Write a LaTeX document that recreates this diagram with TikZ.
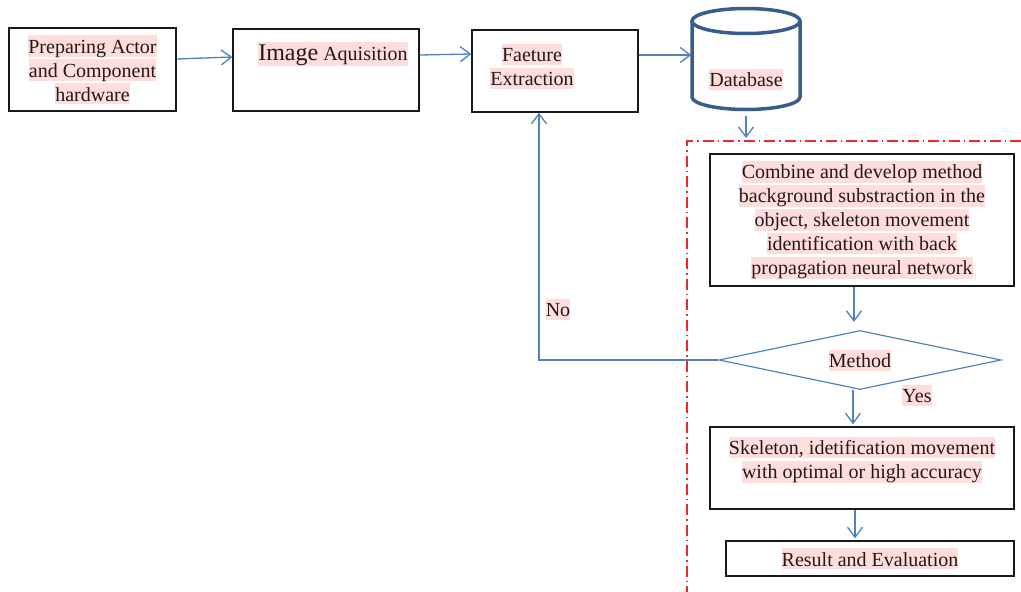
\documentclass[tikz,border=0pt]{standalone}
\usepackage{fontspec}
\setmainfont{Liberation Serif}
\usetikzlibrary{arrows.meta,shapes.geometric,calc}
\definecolor{hlpink}{RGB}{255,221,221}
\definecolor{flowblue}{RGB}{79,129,189}
\definecolor{dbblue}{RGB}{56,93,138}
\definecolor{regred}{RGB}{240,40,40}
\definecolor{inkc}{RGB}{35,25,25}
\newcommand{\hlt}[1]{{\setlength{\fboxsep}{0pt}\colorbox{hlpink}{\rule[-3pt]{0pt}{21pt}#1}}}
\begin{document}
\begin{tikzpicture}[x=1pt,y=-1pt,
  font=\fontsize{20}{24}\selectfont,
  every node/.style={text=inkc},
  box/.style={draw=black!90, line width=1.4pt, inner sep=0pt, align=center},
  txt/.style={align=center, inner sep=0pt},
  arr/.style={draw=flowblue, line width=1.3pt, -{Straight Barb[length=10pt,width=15pt]}},
  dbline/.style={draw=dbblue, line width=3.5pt},
  regline/.style={draw=regred, line width=1.5pt, dash pattern=on 11pt off 4pt on 1.5pt off 4pt},
  ]
\useasboundingbox (0,0) rectangle (1021,592);

% top row
\node[box, minimum width=167, minimum height=83] (prep) at (92.5,69.5)
  {\hlt{Preparing Actor}\\\hlt{and Component}\\\hlt{hardware}};
\node[box, minimum width=186, minimum height=82] (imgb) at (326,70) {};
\node[txt] (imgt) at (333,54) {\hlt{{\fontsize{24}{24}\selectfont Image} Aquisition}};
\node[box, minimum width=166, minimum height=82] (featb) at (555,71) {};
\node[txt] (featt) at (532,66) {\hlt{Faeture}\\\hlt{Extraction}};

% database cylinder
\node[inner sep=0pt, minimum width=109, minimum height=102] (db) at (746,59) {};
\draw[dbline] (692,21) -- (692,97) arc[start angle=180, end angle=0, x radius=54, y radius=12.5] -- (800,21);
\draw[dbline] (746,21) ellipse[x radius=54, y radius=12.5];
\node[txt] (dbt) at (746,79) {\hlt{Database}};

% right column
\node[box, minimum width=304, minimum height=132] (comb) at (862,220)
  {\hlt{Combine and develop method}\\\hlt{background substraction in the}\\\hlt{object, skeleton movement}\\\hlt{identification with back}\\\hlt{propagation neural network}};
\node[diamond, aspect=4.78, draw=flowblue, line width=1.2pt, minimum width=282, minimum height=59, inner sep=0pt] (dia) at (860,360) {\hlt{Method}};
\node[box, minimum width=304, minimum height=82] (skel) at (862,468) {};
\node[txt] (skelt) at (862,460) {\hlt{Skeleton, idetification movement}\\\hlt{with optimal or high accuracy}};
\node[box, minimum width=288, minimum height=35] (res) at (870,558.5) {\hlt{Result and Evaluation}};

\node[txt] (no) at (558,309) {\hlt{No}};
\node[txt] (yes) at (917,395) {\hlt{Yes}};

% red dash-dot region
\coordinate (regright) at (1021,141);
\coordinate (regcorner) at (687,141);
\coordinate (regbottom) at (687,592);
\coordinate (regtop) at (746,141);
\draw[regline] (regright) -- (regcorner) -- (regbottom);

% connectors
\draw[arr] ([yshift=10.5pt]prep.east) -- ([yshift=13pt]imgb.west);
\draw[arr] ([yshift=15pt]imgb.east) -- ([yshift=17pt]featb.west);
\draw[arr] ([yshift=16pt]featb.east) -- ([yshift=4pt]db.west);
\draw[arr] ([yshift=-6pt]db.south) -- ([yshift=3pt]regtop);
\draw[arr, shorten >=8pt] ([xshift=-8pt]comb.south) -- ([xshift=-6pt]dia.north);
\draw[arr] ([xshift=-7pt]dia.south) -- ([xshift=-9pt,yshift=2pt]skel.north);
\draw[arr] ([xshift=-7pt]skel.south) -- ([xshift=-15pt,yshift=2pt]res.north);
\coordinate (nocorner) at (539,360);
\draw[arr] (dia.west) -- (nocorner) -- (nocorner |- featb.south);
\end{tikzpicture}
\end{document}
